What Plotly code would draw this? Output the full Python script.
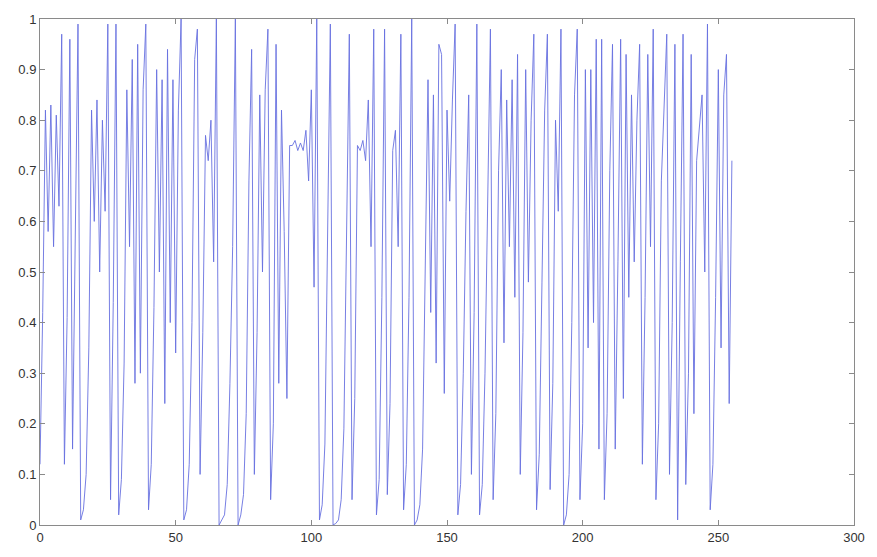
import plotly.graph_objects as go

# Sample index and the series value at each step
steps = list(range(256))
values = [
    0.12, 0.42, 0.82, 0.58, 0.83, 0.55, 0.81, 0.63, 0.97, 0.12,
    0.41, 0.96, 0.15, 0.52, 0.99, 0.01, 0.03, 0.10, 0.35, 0.82,
    0.60, 0.84, 0.50, 0.80, 0.62, 0.99, 0.05, 0.44, 0.99, 0.02,
    0.09, 0.32, 0.86, 0.55, 0.92, 0.28, 0.95, 0.30, 0.86, 0.99,
    0.03, 0.12, 0.43, 0.90, 0.50, 0.88, 0.24, 0.94, 0.40, 0.88,
    0.34, 0.82, 1.00, 0.01, 0.03, 0.12, 0.40, 0.92, 0.98, 0.10,
    0.38, 0.77, 0.72, 0.80, 0.52, 1.00, 0.00, 0.01, 0.02, 0.08,
    0.28, 0.55, 1.00, 0.00, 0.02, 0.06, 0.22, 0.68, 0.94, 0.10,
    0.38, 0.85, 0.50, 0.86, 0.98, 0.05, 0.20, 0.95, 0.28, 0.82,
    0.58, 0.25, 0.75, 0.75, 0.76, 0.74, 0.755, 0.74, 0.78, 0.68,
    0.86, 0.47, 1.00, 0.01, 0.04, 0.16, 0.55, 0.99, 0.00, 0.003,
    0.01, 0.05, 0.19, 0.62, 0.97, 0.05, 0.25, 0.75, 0.74, 0.76,
    0.72, 0.84, 0.55, 0.98, 0.02, 0.09, 0.45, 0.98, 0.06, 0.24,
    0.74, 0.78, 0.55, 0.97, 0.03, 0.12, 0.45, 1.00, 0.00, 0.01,
    0.04, 0.15, 0.52, 0.88, 0.42, 0.85, 0.32, 0.95, 0.93, 0.26,
    0.82, 0.64, 0.84, 0.99, 0.02, 0.08, 0.30, 0.62, 0.85, 0.10,
    0.42, 0.99, 0.02, 0.08, 0.30, 0.60, 0.98, 0.05, 0.22, 0.70,
    0.90, 0.36, 0.84, 0.55, 0.88, 0.45, 0.93, 0.10, 0.38, 0.90,
    0.48, 0.80, 0.97, 0.03, 0.14, 0.48, 0.82, 0.97, 0.07, 0.28,
    0.80, 0.62, 0.98, 0.00, 0.02, 0.10, 0.40, 0.85, 0.98, 0.05,
    0.20, 0.90, 0.35, 0.90, 0.40, 0.96, 0.15, 0.96, 0.05, 0.22,
    0.70, 0.95, 0.15, 0.52, 0.96, 0.25, 0.93, 0.45, 0.85, 0.52,
    0.80, 0.95, 0.12, 0.45, 0.93, 0.55, 0.98, 0.05, 0.20, 0.68,
    0.82, 0.97, 0.10, 0.40, 0.95, 0.01, 0.52, 0.97, 0.08, 0.30,
    0.93, 0.22, 0.72, 0.78, 0.85, 0.50, 0.99, 0.03, 0.12, 0.45,
    0.90, 0.35, 0.85, 0.93, 0.24, 0.72,
]

x_ticks = [0, 50, 100, 150, 200, 250, 300]
y_ticks = [0, 0.1, 0.2, 0.3, 0.4, 0.5, 0.6, 0.7, 0.8, 0.9, 1]
y_tick_text = ["0", "0.1", "0.2", "0.3", "0.4", "0.5", "0.6", "0.7", "0.8", "0.9", "1"]

fig = go.Figure(
    go.Scatter(
        x=steps,
        y=values,
        mode="lines",
        line=dict(color="rgb(104,112,224)", width=0.9),
        hoverinfo="skip",
    )
)

axis_common = dict(
    showgrid=False,
    zeroline=False,
    showline=True,
    linecolor="#8a8a8a",
    linewidth=1,
    mirror="ticks",
    ticks="inside",
    ticklen=5,
    tickcolor="#8a8a8a",
    tickfont=dict(family="Liberation Sans, Arial, sans-serif", size=13, color="#333333"),
)

fig.update_layout(
    width=877,
    height=557,
    margin=dict(l=40, r=12, t=18, b=30),
    paper_bgcolor="white",
    plot_bgcolor="white",
    showlegend=False,
    xaxis=dict(range=[0, 300], tickvals=x_ticks, **axis_common),
    yaxis=dict(range=[0, 1], tickvals=y_ticks, ticktext=y_tick_text, **axis_common),
)

fig.write_html("out.html")
